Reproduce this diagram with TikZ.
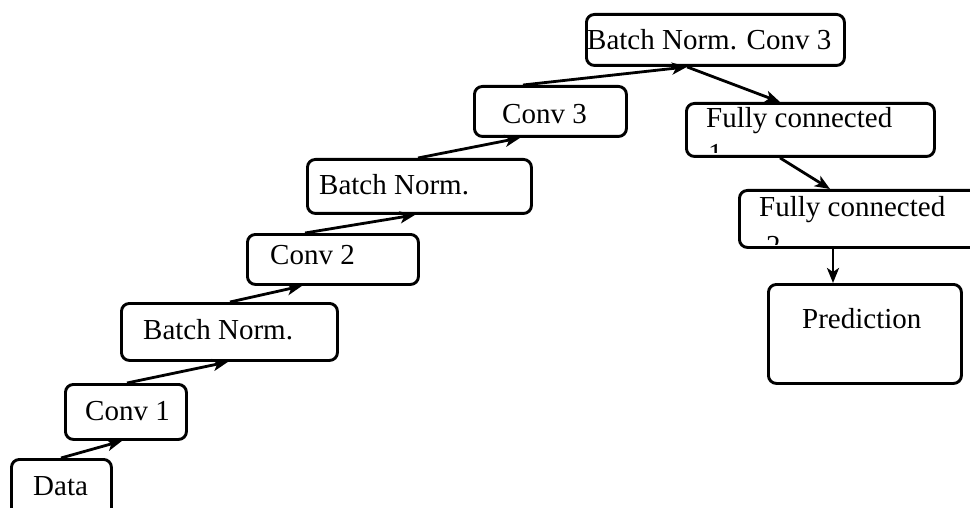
\documentclass[tikz,border=0pt]{standalone}
\usepackage{fontspec}
\setmainfont{Liberation Serif}
\usetikzlibrary{arrows.meta}
\begin{document}
\begin{tikzpicture}[x=1pt,y=-1pt,
  box/.style={draw, line width=2.9pt, rounded corners=8pt, inner sep=0pt, anchor=north west},
  lbl/.style={inner sep=0pt, anchor=base west, font=\fontsize{29}{34}\selectfont},
  conn/.style={line width=2.8pt, -{Stealth[length=15pt,width=12pt,inset=4pt]}}]
\clip (0,0) rectangle (970,508);
\fill[white] (0,0) rectangle (970,508);
% clipped overflow second lines
\begin{scope}
\clip (685,100) rectangle (933,153);
\node[lbl] (fc1b) at (708,164) {1};
\end{scope}
\begin{scope}
\clip (738,187) rectangle (985,244);
\node[lbl] (fc2b) at (766,255) {2};
\end{scope}
% boxes
\node[box, minimum width=100, minimum height=62] (data) at (10,458) {};
\node[box, minimum width=121, minimum height=55] (conv1) at (64,383) {};
\node[box, minimum width=216, minimum height=57] (bn1) at (120,302) {};
\node[box, minimum width=171, minimum height=50] (conv2) at (246,233) {};
\node[box, minimum width=224, minimum height=54] (bn2) at (306,158) {};
\node[box, minimum width=152, minimum height=50] (conv3) at (473,85) {};
\node[box, minimum width=258, minimum height=51] (bnc3) at (585,13) {};
\node[box, minimum width=248, minimum height=53] (fc1) at (685,102) {};
\node[box, minimum width=250, minimum height=57] (fc2) at (738,189) {};
\node[box, minimum width=193, minimum height=99] (pred) at (767,283) {};
% labels
\node[lbl] (datat) at (33,495) {Data};
\node[lbl] (conv1t) at (85,420) {Conv 1};
\node[lbl] (bn1t) at (143,339) {Batch Norm.};
\node[lbl] (conv2t) at (270,265) {Conv 2};
\node[lbl] (bn2t) at (319,195) {Batch Norm.};
\node[lbl] (conv3t) at (502,124) {Conv 3};
\node[lbl] (bnc3t) at (587,50) {Batch Norm. Conv 3};
\node[lbl] (fc1t) at (706,128) {Fully connected};
\node[lbl] (fc2t) at (759,216) {Fully connected};
\node[lbl] (predt) at (802,328) {Prediction};
% connectors
\draw[conn] ([xshift=51]data.north west) -- ([xshift=58]conv1.south west);
\draw[conn] ([xshift=63]conv1.north west) -- ([xshift=108]bn1.south west);
\draw[conn] ([xshift=110]bn1.north west) -- ([xshift=56]conv2.south west);
\draw[conn] ([xshift=59]conv2.north west) -- ([xshift=109]bn2.south west);
\draw[conn] ([xshift=112]bn2.north west) -- ([xshift=47]conv3.south west);
\draw[conn] ([xshift=50]conv3.north west) -- ([xshift=102]bnc3.south west);
\draw[conn] ([xshift=102]bnc3.south west) -- ([xshift=95]fc1.north west);
\draw[conn] ([xshift=95]fc1.south west) -- ([xshift=92]fc2.north west);
\draw[conn] ([xshift=95]fc2.south west) -- ([xshift=66]pred.north west);
\end{tikzpicture}
\end{document}
